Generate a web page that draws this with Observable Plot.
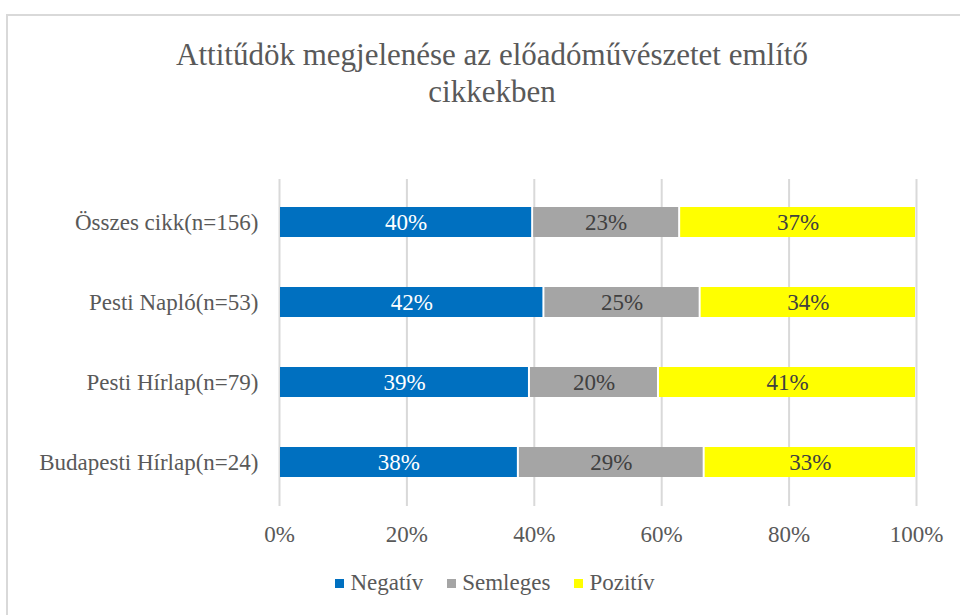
<!DOCTYPE html>
<html>
<head>
<meta charset="utf-8">
<script src="https://cdn.jsdelivr.net/npm/d3@7"></script>
<script src="https://cdn.jsdelivr.net/npm/@observablehq/plot@0.6"></script>
<style>
  body { margin: 0; padding: 0; background: #fff; font-family: 'Liberation Serif', serif; }
  .wrapbox { position: relative; width: 960px; height: 615px; overflow: hidden; }
  .framebox { position: absolute; left: 6px; top: 14px; width: 1100px; height: 800px; border: 2px solid #d9d9d9; box-sizing: border-box; }
  .ttl { position: absolute; left: 0; top: 36px; width: 984px; text-align: center; font-size: 31px; line-height: 37px; color: #595959; }
  .chartbox { position: absolute; left: 0; top: 150px; }
  .lgd { position: absolute; left: 0; top: 570px; width: 990px; display: flex; justify-content: center; font-size: 23px; color: #595959; }
  .item { display: flex; align-items: center; margin: 0 12px; }
  .sw { width: 9px; height: 9px; margin-right: 6px; }
</style>
</head>
<body>
<div class="wrapbox">
  <div class="framebox"></div>
  <div class="ttl">Attitűdök megjelenése az előadóművészetet említő<br>cikkekben</div>
  <div class="chartbox"></div>
  <div class="lgd"></div>
</div>
<script>
const categories = ["Összes cikk(n=156)", "Pesti Napló(n=53)", "Pesti Hírlap(n=79)", "Budapesti Hírlap(n=24)"];
const series = ["Negatív", "Semleges", "Pozitív"];
const negativ = [62, 22, 31, 9];
const semleges = [36, 13, 16, 7];
const pozitiv = [58, 18, 32, 8];
const colors = ["#0070C0", "#A5A5A5", "#FFFF00"];
const xTicks = [0, 0.2, 0.4, 0.6, 0.8, 1];

const FONT = "'Liberation Serif', serif";
const valuesBySeries = [negativ, semleges, pozitiv];
const data = [];
categories.forEach((cat, i) => {
  const total = negativ[i] + semleges[i] + pozitiv[i];
  series.forEach((s, j) => {
    const v = valuesBySeries[j][i];
    data.push({cat, series: s, value: v, share: v / total});
  });
});
const pct = d => Math.round(d.share * 100) + "%";

const plot = Plot.plot({
  width: 960,
  height: 410,
  marginLeft: 279,
  marginRight: 44,
  marginTop: 31,
  marginBottom: 57,
  style: {fontFamily: FONT, fontSize: "23px", color: "#595959", background: "transparent"},
  x: {domain: [0, 1], ticks: xTicks, tickFormat: d3.format(".0%"), tickSize: 0, tickPadding: 22, label: null},
  y: {domain: categories, paddingInner: 0.627, paddingOuter: 0.3135, tickSize: 0, tickPadding: 21, label: null},
  color: {domain: series, range: colors},
  marks: [
    Plot.ruleX(xTicks, {stroke: "#d9d9d9", strokeWidth: 2, insetTop: -2, insetBottom: -3}),
    Plot.barX(data, Plot.stackX({x: "share", y: "cat", fill: "series", insetLeft: 1, insetRight: 1})),
    Plot.text(data, Plot.stackX({x: "share", y: "cat", z: "series", text: d => d.series === "Negatív" ? pct(d) : null, fill: "white", fontSize: 23})),
    Plot.text(data, Plot.stackX({x: "share", y: "cat", z: "series", text: d => d.series !== "Negatív" ? pct(d) : null, fill: "#404040", fontSize: 23}))
  ]
});
document.querySelector(".chartbox").appendChild(plot);

const legend = document.querySelector(".lgd");
series.forEach((s, j) => {
  const item = document.createElement("div");
  item.className = "item";
  const sw = document.createElement("span");
  sw.className = "sw";
  sw.style.background = colors[j];
  const label = document.createElement("span");
  label.textContent = s;
  item.appendChild(sw);
  item.appendChild(label);
  legend.appendChild(item);
});
</script>
</body>
</html>
